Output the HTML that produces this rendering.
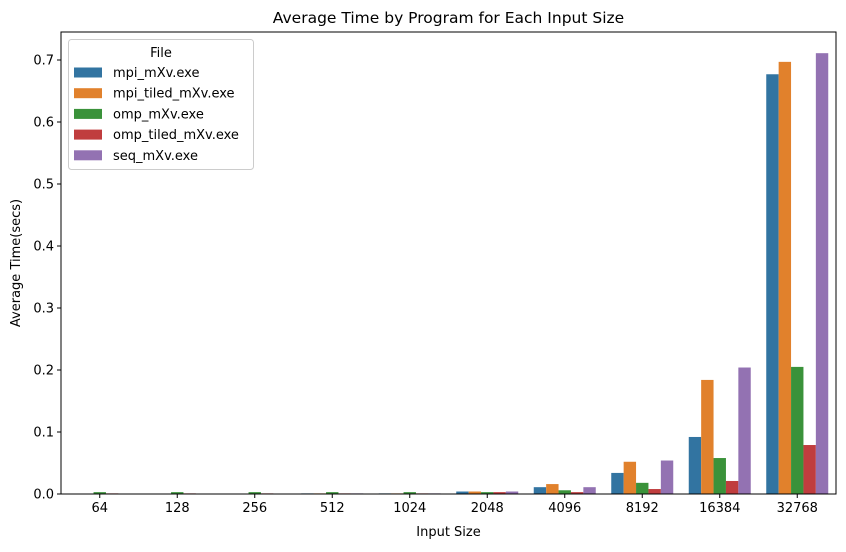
<!DOCTYPE html>
<html><head><meta charset="utf-8"><style>
body{margin:0;background:#fff;font-family:"Liberation Sans","DejaVu Sans",sans-serif}
</style></head><body>
<svg id="chart" width="846" height="547" xmlns="http://www.w3.org/2000/svg" font-family="'DejaVu Sans','Liberation Sans',sans-serif"></svg>
<script>
const categories=["64","128","256","512","1024","2048","4096","8192","16384","32768"];
const seriesNames=["mpi_mXv.exe","mpi_tiled_mXv.exe","omp_mXv.exe","omp_tiled_mXv.exe","seq_mXv.exe"];
const mpi=[0,0,0,0.001,0.001,0.004,0.011,0.034,0.092,0.677];
const mpiTiled=[0,0,0,0.001,0.001,0.004,0.016,0.052,0.184,0.697];
const omp=[0.003,0.003,0.003,0.003,0.003,0.003,0.006,0.018,0.058,0.205];
const ompTiled=[0.001,0.001,0.001,0.001,0.001,0.003,0.003,0.008,0.021,0.079];
const seq=[0,0,0,0.001,0.001,0.004,0.011,0.054,0.204,0.711];
const yTicks=[0,0.1,0.2,0.3,0.4,0.5,0.6,0.7];
const colors=["#3274a1","#e1812c","#3a923a","#c03d3e","#9372b2"];
const series=[mpi,mpiTiled,omp,ompTiled,seq];
const svg=document.getElementById('chart');
const NS="http://www.w3.org/2000/svg";
const L=61,R=836,T=32,B=494;
const band=(R-L)/categories.length;
const x=i=>L+(i+0.5)*band;
const y=v=>B-v*620;
function mk(tag,attrs,text){const e=document.createElementNS(NS,tag);for(const k in attrs)e.setAttribute(k,attrs[k]);if(text!==undefined)e.textContent=text;svg.appendChild(e);return e;}
const bw=band*0.8/series.length;
series.forEach((s,si)=>{s.forEach((v,i)=>{
 const bx=x(i)-band*0.4+si*bw;
 const r=mk('rect',{x:bx,y:y(v),width:bw,height:B-y(v),fill:colors[si]});
 
 
});});
mk('rect',{x:L,y:T,width:R-L,height:B-T,fill:'none',stroke:'#000','stroke-width':1,});
categories.forEach((c,i)=>{
 const t=mk('line',{x1:x(i),x2:x(i),y1:B,y2:B+4,stroke:'#000'});
 
 
 const lb=mk('text',{x:x(i),y:B+18,'text-anchor':'middle','font-size':13},c);
 
 
});
yTicks.forEach(v=>{
 const t=mk('line',{x1:L-4,x2:L,y1:y(v),y2:y(v),stroke:'#000'});
 
 
 const lb=mk('text',{x:L-7,y:y(v)+4.5,'text-anchor':'end','font-size':13},v.toFixed(1));
 
 
});
mk('text',{x:(L+R)/2,y:536,'text-anchor':'middle','font-size':13,},'Input Size');
mk('text',{x:20,y:(T+B)/2,'text-anchor':'middle','font-size':13,transform:`rotate(-90 20 ${(T+B)/2})`,},'Average Time(secs)');
mk('text',{x:(L+R)/2,y:23,'text-anchor':'middle','font-size':15.5,},'Average Time by Program for Each Input Size');
mk('rect',{x:68.5,y:39.5,width:185,height:130,rx:3,fill:'#fff','fill-opacity':0.8,stroke:'#ccc',});
mk('text',{x:161,y:57,'text-anchor':'middle','font-size':13,},'File');
seriesNames.forEach((n,si)=>{
 const yy=72+si*20.7;
 const sw=mk('rect',{x:74,y:yy-4.5,width:28,height:10,fill:colors[si]});
 
 
 const lb=mk('text',{x:113,y:yy+5,'font-size':13},n);
 
 
});
</script>
</body></html>
